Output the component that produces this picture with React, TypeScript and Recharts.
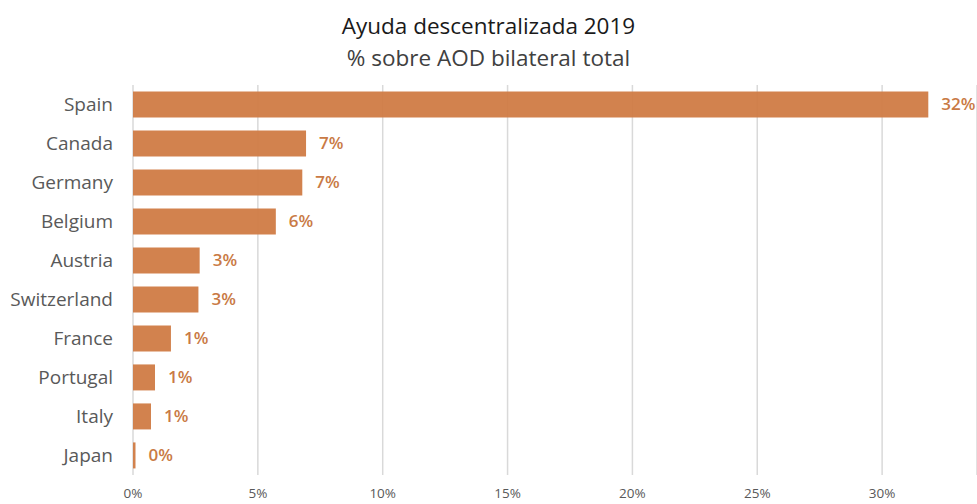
import React from "react";
import { BarChart, Bar, XAxis, YAxis, CartesianGrid, LabelList } from "recharts";

const countries = ["Spain", "Canada", "Germany", "Belgium", "Austria", "Switzerland", "France", "Portugal", "Italy", "Japan"];
const shares = [31.85, 6.93, 6.78, 5.72, 2.67, 2.62, 1.52, 0.88, 0.72, 0.1];
const shareLabels = ["32%", "7%", "7%", "6%", "3%", "3%", "1%", "1%", "1%", "0%"];
const xTicks = [0, 5, 10, 15, 20, 25, 30];

const data = countries.map((c, i) => ({ country: c, value: shares[i], label: shareLabels[i] }));

const FONT = "'Open Sans', 'Noto Sans', sans-serif";

export default function App() {
  return (
    <div style={{ position: "absolute", left: 0, top: 0, width: 977, height: 504, background: "#fff", fontFamily: FONT }}>
      <BarChart
        width={977}
        height={504}
        data={data}
        layout="vertical"
        margin={{ top: 85, right: 0, left: 0, bottom: 0 }}
        barCategoryGap="16.5%"
        style={{ position: "absolute", left: 0, top: 0 }}
      >
        <CartesianGrid horizontal={false} stroke="#d9d9d9" strokeWidth={1.5} />
        <XAxis
          type="number"
          domain={[0, 33.8]}
          ticks={xTicks}
          tickFormatter={(v: number) => `${v}%`}
          axisLine={false}
          tickLine={false}
          tickSize={0}
          tickMargin={13}
          height={29}
          tick={{ fontSize: 13.5, fill: "#595959", fontFamily: FONT }}
          allowDataOverflow
        />
        <YAxis
          type="category"
          dataKey="country"
          width={133}
          axisLine={false}
          tickLine={false}
          tickSize={0}
          tickMargin={20}
          tick={{ fontSize: 19, fill: "#595959", fontFamily: FONT }}
        />
        <Bar dataKey="value" fill="#D07B44" fillOpacity={0.95} isAnimationActive={false}>
          <LabelList
            dataKey="label"
            position="right"
            offset={13}
            style={{ fontSize: 17, fontWeight: 600, fill: "#C97A45", fontFamily: FONT }}
          />
        </Bar>
      </BarChart>
      <div style={{ position: "absolute", top: 11, left: 0, width: 977, textAlign: "center", fontSize: 22.5, color: "#1a1a1a", lineHeight: "30px" }}>
        Ayuda descentralizada 2019
      </div>
      <div style={{ position: "absolute", top: 43, left: 0, width: 977, textAlign: "center", fontSize: 22.5, color: "#404040", lineHeight: "30px" }}>
        % sobre AOD bilateral total
      </div>
    </div>
  );
}
